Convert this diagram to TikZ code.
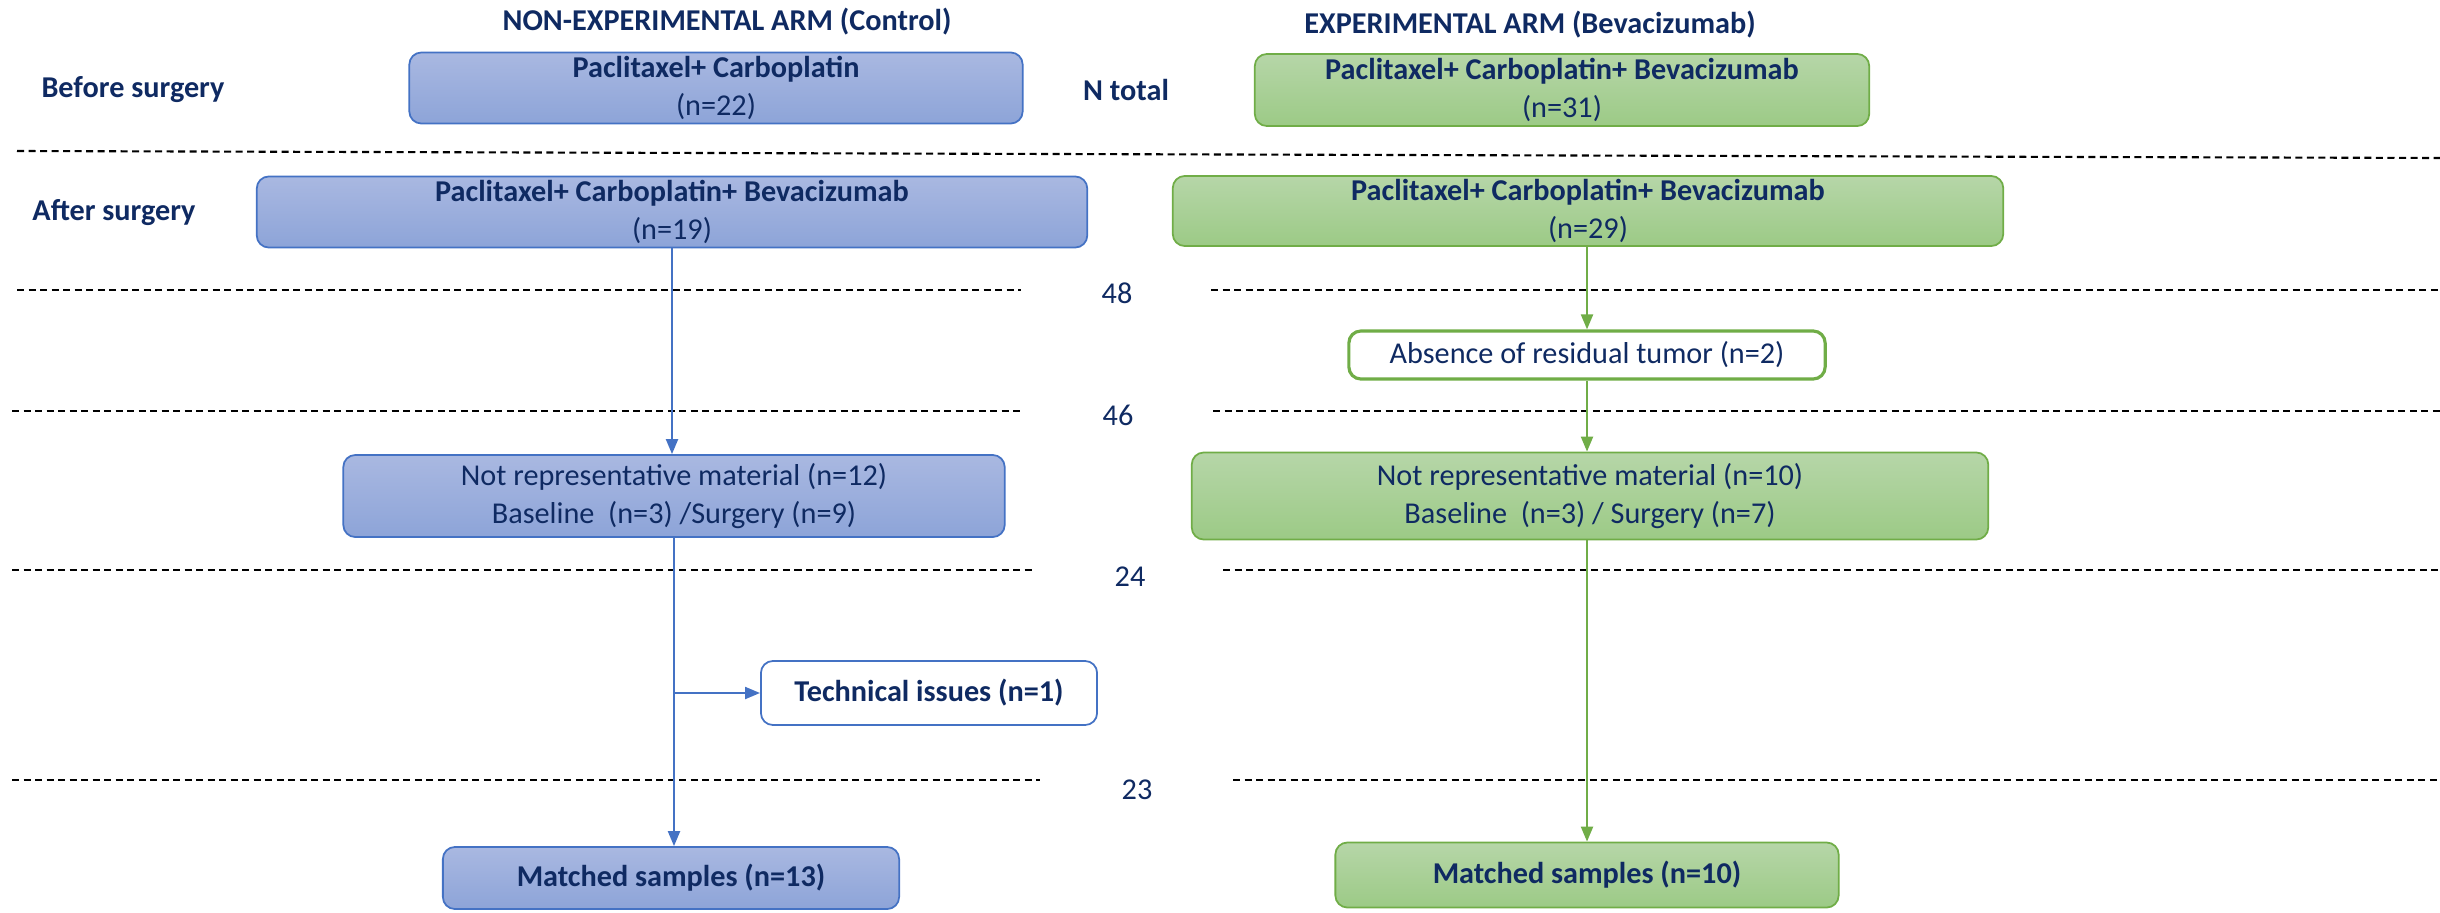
\documentclass[tikz,border=0pt]{standalone}
\usepackage{fontspec}
\setmainfont{Carlito}
\usepackage{tikz}
\usetikzlibrary{arrows.meta}

\definecolor{navy}{HTML}{0F2A62}
\definecolor{ctrlline}{HTML}{4472C4}
\definecolor{ctrltop}{HTML}{A9B8E1}
\definecolor{ctrlbot}{HTML}{8DA4D8}
\definecolor{bevline}{HTML}{70AD47}
\definecolor{bevtop}{HTML}{B6D6A8}
\definecolor{bevbot}{HTML}{9CCA86}
\newcommand{\txtsize}{\fontsize{8.6}{11}\selectfont}

\begin{document}
\begin{tikzpicture}[
    x=0.01cm, y=-0.01cm,
    ctrlbox/.style={draw=ctrlline, line width=0.5pt, rounded corners=0.12cm, top color=ctrltop, bottom color=ctrlbot, text=navy, align=center, inner sep=0pt, font=\txtsize},
    bevbox/.style={ctrlbox, draw=bevline, top color=bevtop, bottom color=bevbot},
    ctrlplain/.style={draw=ctrlline, line width=0.5pt, rounded corners=0.12cm, fill=white, text=navy, align=center, inner sep=0pt, font=\txtsize},
    bevplain/.style={ctrlplain, draw=bevline, line width=0.9pt},
    side/.style={text=navy, font=\txtsize\bfseries, inner sep=0pt},
    count/.style={text=navy, font=\txtsize, inner sep=0pt},
    sep/.style={dash pattern=on 0.07cm off 0.045cm, line width=0.6pt},
    ctrlarrow/.style={draw=ctrlline, -{Triangle[length=0.15cm, width=0.12cm]}, line width=0.6pt},
    bevarrow/.style={ctrlarrow, draw=bevline},
]
    \useasboundingbox (0,0) rectangle (2440,912);

    \node[side] (ctrlhead) at (727,22) {NON-EXPERIMENTAL ARM (Control)};
    \node[side] (bevhead) at (1530,25) {EXPERIMENTAL ARM (Bevacizumab)};
    \node[side] (before) at (133,90) {Before surgery};
    \node[side] (after) at (114,213) {After surgery};
    \node[side] (ntotal) at (1126,90) {N total};

    \node[ctrlbox, minimum width=6.13cm, minimum height=0.71cm] (ctrlpre) at (716,88) {\textbf{Paclitaxel+ Carboplatin}\\(n=22)};
    \node[bevbox, minimum width=6.14cm, minimum height=0.72cm] (bevpre) at (1562,90) {\textbf{Paclitaxel+ Carboplatin+ Bevacizumab}\\(n=31)};
    \node[ctrlbox, minimum width=8.30cm, minimum height=0.71cm] (ctrlpost) at (672,212) {\textbf{Paclitaxel+ Carboplatin+ Bevacizumab}\\(n=19)};
    \node[bevbox, minimum width=8.30cm, minimum height=0.70cm] (bevpost) at (1588,211) {\textbf{Paclitaxel+ Carboplatin+ Bevacizumab}\\(n=29)};

    \node[bevplain, minimum width=4.76cm, minimum height=0.48cm] (absent) at (1587,355) {Absence of residual tumor (n=2)};
    \node[ctrlbox, minimum width=6.61cm, minimum height=0.82cm] (ctrlnrm) at (674,496) {Not representative material (n=12)\\Baseline\ \ (n=3) /Surgery (n=9)};
    \node[bevbox, minimum width=7.96cm, minimum height=0.87cm] (bevnrm) at (1590,496) {Not representative material (n=10)\\Baseline\ \ (n=3) / Surgery (n=7)};
    \node[ctrlplain, font=\txtsize\bfseries, minimum width=3.36cm, minimum height=0.64cm] (tech) at (929,693) {Technical issues (n=1)};
    \node[ctrlbox, font=\txtsize\bfseries, minimum width=4.56cm, minimum height=0.62cm] (ctrlmatch) at (671,878) {Matched samples (n=13)};
    \node[bevbox, font=\txtsize\bfseries, minimum width=5.03cm, minimum height=0.65cm] (bevmatch) at (1587,875) {Matched samples (n=10)};

    \node[count] (n48) at (1117,293) {48};
    \node[count] (n46) at (1118,415) {46};
    \node[count] (n24) at (1130,577) {24};
    \node[count] (n23) at (1137,790) {23};

    \draw[sep] (17,151) -- (2440,158);
    \draw[sep] (17,290) -- (1021,290);
    \draw[sep] (1211,290) -- (2440,290);
    \draw[sep] (12,411) -- (1024,411);
    \draw[sep] (1213,411) -- (2440,411);
    \draw[sep] (12,570) -- (1032,570);
    \draw[sep] (1223,570) -- (2440,570);
    \draw[sep] (12,780) -- (1040,780);
    \draw[sep] (1233,780) -- (2440,780);

    \draw[ctrlarrow] (ctrlpost.south) -- (ctrlpost.south |- ctrlnrm.north);
    \draw[ctrlarrow] (ctrlnrm.south) -- (ctrlnrm.south |- ctrlmatch.north);
    \coordinate (fork) at (ctrlnrm.south |- tech.west);
    \draw[ctrlarrow] (fork) -- (tech.west);

    \draw[bevarrow] (bevpost.south -| absent.north) -- (absent.north);
    \draw[bevarrow] (absent.south) -- (absent.south |- bevnrm.north);
    \draw[bevarrow] (absent.south |- bevnrm.south) -- (absent.south |- bevmatch.north);
\end{tikzpicture}
\end{document}
